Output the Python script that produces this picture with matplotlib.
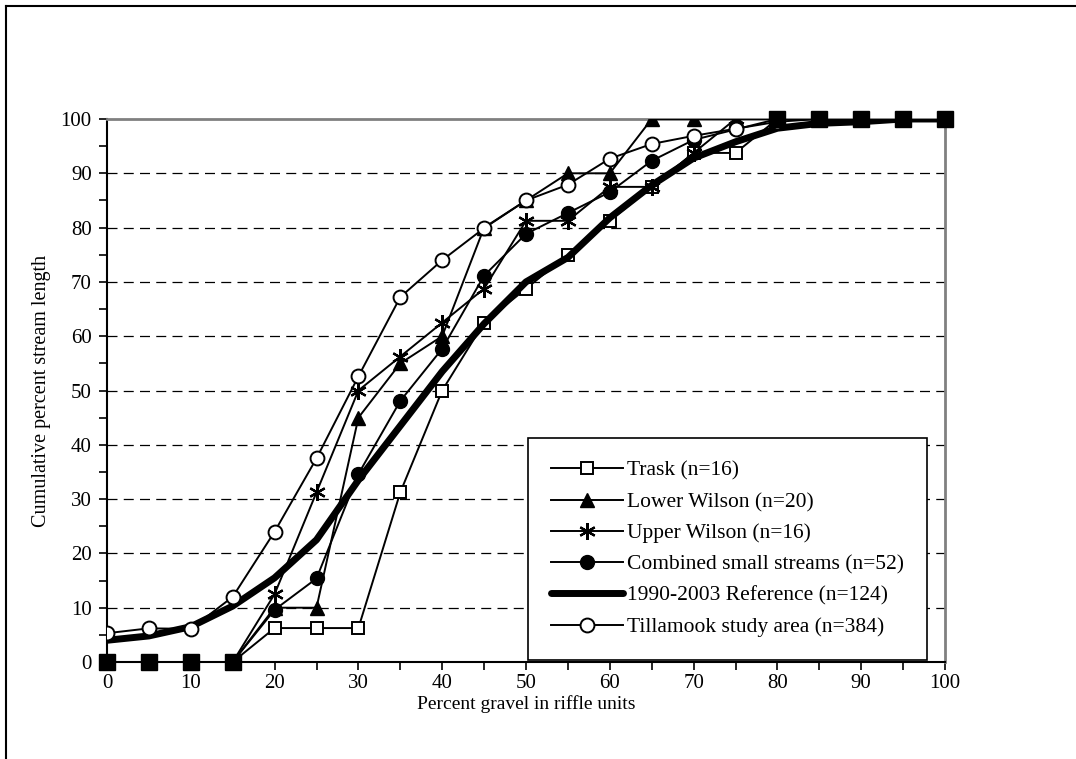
import matplotlib
matplotlib.use("Agg")
import matplotlib.pyplot as plt
from matplotlib.lines import Line2D
import numpy as np

# percent gravel in riffle units
gravel = [0, 5, 10, 15, 20, 25, 30, 35, 40, 45, 50, 55, 60, 65, 70, 75, 80, 85, 90, 95, 100]

# cumulative percent stream length for each group
trask = [0, 0, 0, 0, 6.25, 6.25, 6.25, 31.25, 50, 62.5, 68.75, 75, 81.25, 87.5, 93.75, 93.75,
         100, 100, 100, 100, 100]
lower_wilson = [0, 0, 0, 0, 10, 10, 45, 55, 60, 80, 85, 90, 90, 100, 100, 100,
                100, 100, 100, 100, 100]
upper_wilson = [0, 0, 0, 0, 12.5, 31.25, 50, 56.25, 62.5, 68.75, 81.25, 81.25, 87.5, 87.5, 93.75, 100,
                100, 100, 100, 100, 100]
combined = [0, 0, 0, 0, 9.62, 15.38, 34.62, 48.08, 57.69, 71.15, 78.85, 82.69, 86.54, 92.31, 96.15, 98.08,
            100, 100, 100, 100, 100]
reference = [4.0, 4.8, 6.5, 10.3, 15.5, 22.5, 33.5, 43.5, 53.5, 62.3, 70.0, 74.5, 81.8, 87.8, 92.8, 95.8,
             98.3, 99.2, 99.5, 100, 100]
tillamook = [5.3, 6.2, 6.1, 12.0, 24.0, 37.5, 52.6, 67.2, 74.0, 79.9, 85.0, 87.9, 92.7, 95.4, 96.9, 98.2,
             99.5, 100, 100, 100, 100]

labels = ["Trask (n=16)", "Lower Wilson (n=20)", "Upper Wilson (n=16)",
          "Combined small streams (n=52)", "1990-2003 Reference (n=124)",
          "Tillamook study area (n=384)"]

plt.rcParams["font.family"] = ["Liberation Serif", "DejaVu Serif"]

fig = plt.figure(figsize=(10.76, 7.59), dpi=100)
ax = fig.add_axes([107 / 1076, 1 - 662 / 759, (945 - 107) / 1076, (662 - 119) / 759])

lw = 1.4
ax.plot(gravel, trask, color="black", lw=lw, marker="s", ms=9, mfc="white", mec="black", mew=1.4,
        label=labels[0], zorder=3)
ax.plot(gravel, lower_wilson, color="black", lw=lw, marker="^", ms=10, mfc="black", mec="black",
        label=labels[1], zorder=3)
ax.plot(gravel, upper_wilson, color="black", lw=lw, marker=(6, 2, 0), ms=12, mec="black", mew=1.6,
        label=labels[2], zorder=3)
ax.plot(gravel, combined, color="black", lw=lw, marker="o", ms=10, mfc="black", mec="black",
        label=labels[3], zorder=3)
ax.plot(gravel, reference, color="black", lw=5, solid_capstyle="round",
        label=labels[4], zorder=3)
ax.plot(gravel, tillamook, color="black", lw=lw, marker="o", ms=10, mfc="white", mec="black", mew=1.4,
        label=labels[5], zorder=3)

# where all small-stream series coincide the markers pile up into a solid black square
g = np.array(gravel)
same = (np.array(trask) == np.array(lower_wilson)) & (np.array(trask) == np.array(upper_wilson)) & \
       (np.array(trask) == np.array(combined))
ax.plot(g[same], np.array(trask)[same], ls="none", marker="s", ms=11, mfc="black", mec="black",
        zorder=4, clip_on=False)

ax.set_xlim(0, 100)
ax.set_ylim(0, 100)
ax.set_xticks(range(0, 101, 10))
ax.set_xticks(range(0, 101, 5), minor=True)
ax.set_yticks(range(0, 101, 10))
ax.set_yticks(range(0, 101, 5), minor=True)
ax.tick_params(which="both", direction="out", length=6, width=1.2, labelsize=15, colors="black")
ax.tick_params(axis="x", pad=3)
ax.tick_params(axis="y", pad=5)

for y in range(10, 100, 10):
    ax.axhline(y, color="black", lw=0.9, ls=(0, (8, 5)), zorder=1)

ax.spines["left"].set_linewidth(1.5)
ax.spines["bottom"].set_linewidth(1.5)
ax.spines["top"].set_color("#808080")
ax.spines["right"].set_color("#808080")
ax.spines["top"].set_linewidth(2)
ax.spines["right"].set_linewidth(2)

ax.set_xlabel("Percent gravel in riffle units", fontsize=14, labelpad=1)
ax.set_ylabel("Cumulative percent stream length", fontsize=14.5, labelpad=7)

leg = ax.legend(loc="lower right", bbox_to_anchor=(0.9785, 0.004), fontsize=15.5, frameon=True,
                fancybox=False, edgecolor="black", framealpha=1, handlelength=3.35,
                labelspacing=0.52, handletextpad=0.2, borderpad=1.05, borderaxespad=0)
leg.get_frame().set_linewidth(1.2)
leg.set_zorder(5)

# outer chart border (runs off the right and bottom of the picture)
fig.add_artist(Line2D([6 / 1076, 6 / 1076], [0, 1 - 6 / 759], color="black", lw=1.5))
fig.add_artist(Line2D([6 / 1076, 1], [1 - 6 / 759, 1 - 6 / 759], color="black", lw=1.5))

fig.savefig("out.png", dpi=100, facecolor="white")
